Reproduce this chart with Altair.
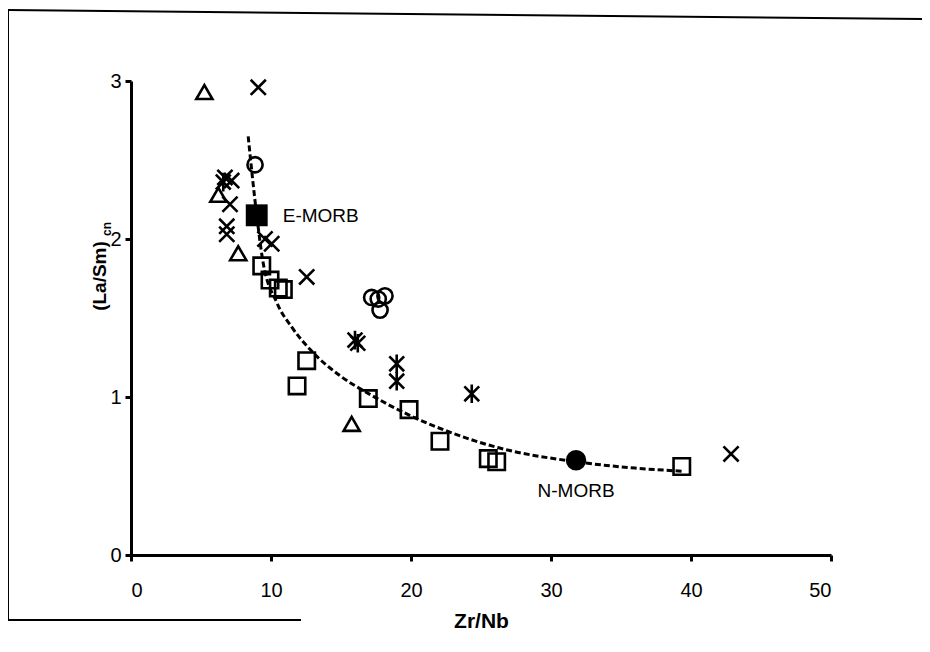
import altair as alt
import pandas as pd

# ---- data ----
sq_x = [9.34, 9.93, 10.52, 10.88, 12.55, 11.86, 16.95, 19.86, 22.07, 25.52, 26.12, 39.34]
sq_y = [1.83, 1.74, 1.69, 1.68, 1.23, 1.07, 0.99, 0.92, 0.72, 0.61, 0.59, 0.56]

tri_x = [5.24, 6.24, 7.66, 15.76]
tri_y = [2.93, 2.28, 1.91, 0.83]

cross_x = [9.09, 6.71, 7.19, 7.07, 6.84, 6.84, 9.57, 10.05, 12.55, 42.86]
cross_y = [2.96, 2.39, 2.37, 2.22, 2.08, 2.03, 2.00, 1.97, 1.76, 0.64]

star_x = [6.59, 16.0, 16.2, 18.98, 18.98, 24.34]
star_y = [2.36, 1.36, 1.34, 1.21, 1.10, 1.02]

circ_x = [8.86, 17.19, 17.66, 18.14, 17.79]
circ_y = [2.47, 1.63, 1.62, 1.64, 1.55]

emorb_x = [8.98]
emorb_y = [2.15]
nmorb_x = [31.79]
nmorb_y = [0.60]

curve_x = [8.37, 8.98, 9.4, 10.4, 11.5, 12.8, 15.0, 17.0, 20.0, 23.0, 26.2, 31.8, 36.0, 39.5]
curve_y = [2.65, 2.15, 1.87, 1.60, 1.44, 1.30, 1.13, 1.02, 0.88, 0.77, 0.68, 0.59, 0.55, 0.53]

x_ticks = [0, 10, 20, 30, 40, 50]
y_ticks = [0, 1, 2, 3]

CROSS = "M-1,-1L1,1M-1,1L1,-1"
STAR = "M-1,-1L1,1M-1,1L1,-1M0,-1.25L0,1.25"

xs = alt.Scale(domain=[0, 50], nice=False, zero=False)
ys = alt.Scale(domain=[0, 3], nice=False, zero=False)

X = alt.X("x:Q", scale=xs,
          axis=alt.Axis(values=x_ticks, title="Zr/Nb", grid=False,
                        labelFont="Liberation Sans Narrow, Arial Narrow, Liberation Sans",
                        labelFontSize=20, labelColor="black", labelPadding=19,
                        tickSize=6, tickWidth=3, tickColor="black",
                        domainWidth=3, domainColor="black",
                        titleFont="Liberation Sans Narrow, Arial Narrow, Liberation Sans",
                        titleFontSize=21, titleFontWeight="bold", titleColor="black",
                        titlePadding=10))
Y = alt.Y("y:Q", scale=ys,
          axis=alt.Axis(values=y_ticks, title=None, grid=False,
                        labelFont="Liberation Sans", labelFontSize=20, labelColor="black",
                        labelPadding=4, tickSize=6, tickWidth=3, tickColor="black",
                        domainWidth=3, domainColor="black"))


def df(xv, yv):
    return pd.DataFrame({"x": xv, "y": yv})


curve = alt.Chart(df(curve_x, curve_y)).mark_line(
    color="black", strokeWidth=3, strokeDash=[6, 3], interpolate="monotone"
).encode(x=X, y=Y, order="x:Q")

squares = alt.Chart(df(sq_x, sq_y)).mark_point(
    shape="square", filled=False, size=270, strokeWidth=2.6, color="black", opacity=1
).encode(x=X, y=Y)

tris = alt.Chart(df(tri_x, tri_y)).mark_point(
    shape="triangle-up", filled=False, size=260, strokeWidth=2.6, color="black", opacity=1
).encode(x=X, y=Y)

crosses = alt.Chart(df(cross_x, cross_y)).mark_point(
    shape=CROSS, filled=False, size=230, strokeWidth=2.6, color="black", opacity=1
).encode(x=X, y=Y)

stars = alt.Chart(df(star_x, star_y)).mark_point(
    shape=STAR, filled=False, size=220, strokeWidth=2.6, color="black", opacity=1
).encode(x=X, y=Y)

circles = alt.Chart(df(circ_x, circ_y)).mark_point(
    shape="circle", filled=False, size=230, strokeWidth=2.6, color="black", opacity=1
).encode(x=X, y=Y)

emorb = alt.Chart(df(emorb_x, emorb_y)).mark_point(
    shape="square", filled=True, size=480, color="black", opacity=1
).encode(x=X, y=Y)

nmorb = alt.Chart(df(nmorb_x, nmorb_y)).mark_point(
    shape="circle", filled=True, size=420, color="black", opacity=1
).encode(x=X, y=Y)

emorb_lbl = alt.Chart(df(emorb_x, emorb_y)).mark_text(
    text="E-MORB", align="left", baseline="middle", dx=26, dy=1,
    font="Liberation Sans", fontSize=19, color="black"
).encode(x=X, y=Y)

nmorb_lbl = alt.Chart(df(nmorb_x, nmorb_y)).mark_text(
    text="N-MORB", align="center", baseline="middle", dy=31,
    font="Liberation Sans", fontSize=19, color="black"
).encode(x=X, y=Y)

one = pd.DataFrame({"a": [0]})

ytitle = alt.Chart(one).mark_text(
    text="(La/Sm)", angle=270, align="center", baseline="middle",
    font="Liberation Sans", fontSize=19, fontWeight="bold", color="black"
).encode(x=alt.value(-31), y=alt.value(195))

ysub = alt.Chart(one).mark_text(
    text="cn", angle=270, align="center", baseline="middle",
    font="Liberation Sans", fontSize=12, fontWeight="bold", color="black"
).encode(x=alt.value(-24), y=alt.value(148))

frame_top = alt.Chart(one).mark_rule(color="black", strokeWidth=2).encode(
    x=alt.value(-123), x2=alt.value(791), y=alt.value(-71), y2=alt.value(-62))
frame_left = alt.Chart(one).mark_rule(color="black", strokeWidth=2).encode(
    x=alt.value(-123), x2=alt.value(-123), y=alt.value(-71), y2=alt.value(539))
frame_bottom = alt.Chart(one).mark_rule(color="black", strokeWidth=2).encode(
    x=alt.value(-123), x2=alt.value(170), y=alt.value(539), y2=alt.value(539))

chart = alt.layer(
    frame_top, frame_left, frame_bottom,
    curve, squares, tris, crosses, stars, circles, emorb, nmorb,
    emorb_lbl, nmorb_lbl, ytitle, ysub
).properties(
    width=700, height=474,
    autosize=alt.AutoSizeParams(type="none"),
    padding={"left": 123, "top": 73, "right": 91, "bottom": 89},
    background="white"
).configure_view(stroke=None)

chart.save("out.html", embed_options={"renderer": "svg", "actions": False})
